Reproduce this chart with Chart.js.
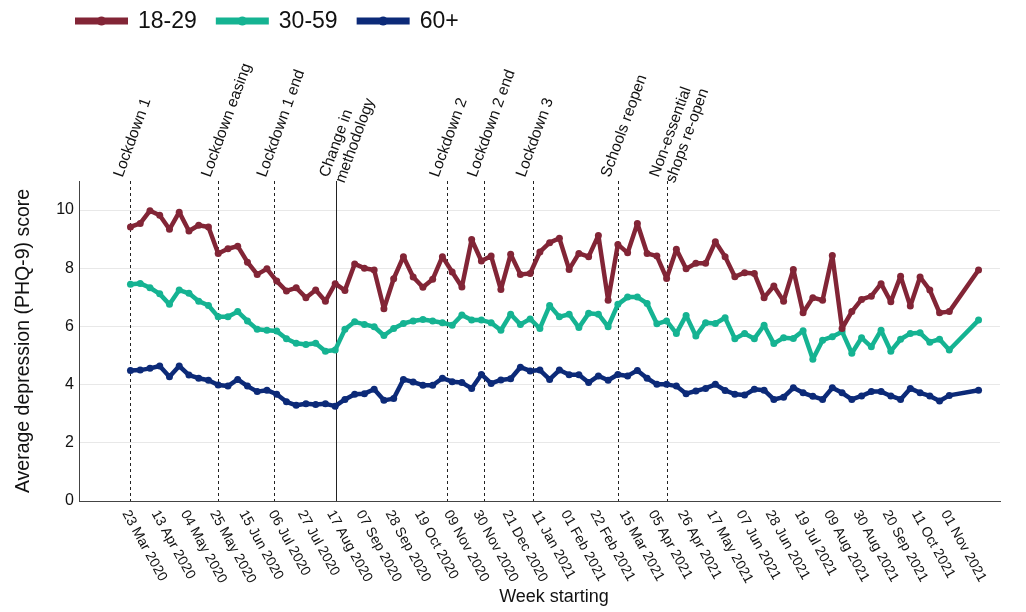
<!DOCTYPE html>
<html>
<head>
<meta charset="utf-8">
<script src="https://cdn.jsdelivr.net/npm/chart.js@4.4.0/dist/chart.umd.min.js"></script>
<style>
html,body{margin:0;padding:0;background:#fff;}
#wrap{width:1026px;height:612px;position:relative;}
</style>
</head>
<body>
<div id="wrap"><canvas id="c" width="1026" height="612"></canvas></div>
<script>
// Weeks since 23 Mar 2020
const weekOffsets = [0,1,2,3,4,5,6,7,8,9,10,11,12,13,14,15,16,17,18,19,20,21,22,23,24,25,26,27,28,29,30,31,32,33,34,35,36,37,38,39,40,41,42,43,44,45,46,47,48,49,50,51,52,53,54,55,56,57,58,59,60,61,62,63,64,65,66,67,68,69,70,71,72,73,74,75,76,77,78,79,80,81,82,83,84,87];

const series1829 = [9.42,9.54,9.98,9.82,9.34,9.93,9.28,9.48,9.42,8.51,
  8.67,8.76,8.21,7.79,7.98,7.56,7.22,7.33,6.99,7.25,
  6.87,7.47,7.24,8.15,8.00,7.94,6.61,7.64,8.40,7.70,
  7.35,7.62,8.40,7.87,7.36,8.99,8.25,8.42,7.27,8.48,
  7.79,7.82,8.56,8.88,9.03,7.96,8.51,8.40,9.13,6.90,
  8.82,8.53,9.54,8.51,8.42,7.65,8.65,7.98,8.17,8.17,
  8.91,8.40,7.71,7.85,7.82,6.99,7.39,6.87,7.96,6.47,
  6.99,6.90,8.44,5.93,6.51,6.93,7.04,7.47,6.85,7.73,
  6.70,7.70,7.25,6.47,6.51,7.94];

const series3059 = [7.45,7.48,7.33,7.12,6.76,7.25,7.14,6.87,6.72,6.33,
  6.33,6.51,6.19,5.90,5.87,5.84,5.58,5.42,5.38,5.42,
  5.15,5.19,5.90,6.16,6.07,5.99,5.69,5.93,6.10,6.19,
  6.24,6.19,6.13,6.04,6.39,6.22,6.22,6.13,5.87,6.42,
  6.07,6.26,5.93,6.72,6.33,6.42,5.96,6.45,6.42,5.99,
  6.76,7.01,7.01,6.79,6.09,6.19,5.76,6.38,5.67,6.13,
  6.10,6.30,5.58,5.76,5.58,6.04,5.41,5.61,5.59,5.85,
  4.87,5.53,5.65,5.82,5.08,5.61,5.30,5.87,5.15,5.56,
  5.76,5.78,5.46,5.56,5.19,6.22];

const series60 = [4.49,4.50,4.56,4.64,4.27,4.64,4.33,4.22,4.15,3.99,
  3.95,4.18,3.95,3.76,3.81,3.67,3.41,3.29,3.34,3.32,
  3.34,3.26,3.49,3.67,3.69,3.84,3.46,3.52,4.18,4.09,
  3.98,3.98,4.22,4.10,4.07,3.87,4.35,4.04,4.16,4.20,
  4.60,4.47,4.50,4.18,4.50,4.34,4.34,4.07,4.30,4.15,
  4.35,4.30,4.49,4.22,4.01,4.01,3.95,3.69,3.78,3.87,
  4.01,3.80,3.67,3.64,3.84,3.81,3.49,3.57,3.89,3.72,
  3.60,3.49,3.89,3.72,3.49,3.61,3.76,3.76,3.61,3.49,
  3.87,3.72,3.61,3.44,3.63,3.81];

const seriesNames = ["18-29","30-59","60+"];
const seriesColors = ["#822536","#15b392","#0c2a78"];

const tickWeeks = [0,3,6,9,12,15,18,21,24,27,30,33,36,39,42,45,48,51,54,57,60,63,66,69,72,75,78,81,84];
const tickLabels = ["23 Mar 2020","13 Apr 2020","04 May 2020","25 May 2020","15 Jun 2020","06 Jul 2020","27 Jul 2020",
  "17 Aug 2020","07 Sep 2020","28 Sep 2020","19 Oct 2020","09 Nov 2020","30 Nov 2020","21 Dec 2020",
  "11 Jan 2021","01 Feb 2021","22 Feb 2021","15 Mar 2021","05 Apr 2021","26 Apr 2021","17 May 2021",
  "07 Jun 2021","28 Jun 2021","19 Jul 2021","09 Aug 2021","30 Aug 2021","20 Sep 2021","11 Oct 2021","01 Nov 2021"];

const eventWeeks = [0, 9, 14.71, 21.1, 32.43, 36.29, 41.29, 50, 55];
const eventLabels = [["Lockdown 1"],["Lockdown easing"],["Lockdown 1 end"],["Change in","methodology"],
  ["Lockdown 2"],["Lockdown 2 end"],["Lockdown 3"],["Schools reopen"],["Non-essential","shops re-open"]];
const eventSolid = [false,false,false,true,false,false,false,false,false];

const xTitle = "Week starting";
const yTitle = "Average depression (PHQ-9) score";

const FONT = "'Liberation Sans', Arial, sans-serif";

function toPoints(vals){ return vals.map((v,i)=>({x: weekOffsets[i], y: v})); }

const customDraw = {
  id: 'customDraw',
  beforeDatasetsDraw(chart){
    const {ctx, chartArea:{top,bottom}, scales:{x}} = chart;
    ctx.save();
    ctx.lineWidth = 1;
    ctx.strokeStyle = '#222';
    eventWeeks.forEach((w,i)=>{
      const px = Math.round(x.getPixelForValue(w)) + 0.5;
      ctx.setLineDash(eventSolid[i] ? [] : [3,3]);
      ctx.beginPath();
      ctx.moveTo(px, top);
      ctx.lineTo(px, bottom);
      ctx.stroke();
    });
    ctx.restore();
  },
  afterDraw(chart){
    const {ctx, chartArea:{top,bottom}, scales:{x}} = chart;
    ctx.save();
    ctx.fillStyle = '#111';
    // event labels
    ctx.font = "15.5px " + FONT;
    ctx.textAlign = 'left';
    ctx.textBaseline = 'alphabetic';
    const ang = 70 * Math.PI/180;
    eventWeeks.forEach((w,i)=>{
      const px = x.getPixelForValue(w);
      ctx.save();
      ctx.translate(px - 8, top - 3);
      ctx.rotate(-ang);
      eventLabels[i].forEach((line,j)=>{ ctx.fillText(line, 0, j*17); });
      ctx.restore();
    });
    // x tick labels
    ctx.font = "14px " + FONT;
    ctx.textBaseline = 'top';
    const ang2 = 61 * Math.PI/180;
    tickWeeks.forEach((w,i)=>{
      const px = x.getPixelForValue(w);
      ctx.save();
      ctx.translate(px + 1, bottom + 7);
      ctx.rotate(ang2);
      ctx.fillText(tickLabels[i], 0, 0);
      ctx.restore();
    });
    // x title
    ctx.font = "18px " + FONT;
    ctx.textAlign = 'center';
    ctx.textBaseline = 'middle';
    ctx.fillText(xTitle, 554, 597);
    // legend
    ctx.textAlign = 'left';
    ctx.font = "23px " + FONT;
    ctx.textBaseline = 'middle';
    let lx = 75;
    const ly = 21;
    seriesNames.forEach((name,i)=>{
      ctx.strokeStyle = seriesColors[i];
      ctx.lineWidth = 7;
      ctx.setLineDash([]);
      ctx.beginPath(); ctx.moveTo(lx, ly); ctx.lineTo(lx+53, ly); ctx.stroke();
      ctx.fillStyle = seriesColors[i];
      ctx.beginPath(); ctx.arc(lx+26.5, ly, 4.5, 0, Math.PI*2); ctx.fill();
      ctx.fillStyle = '#111';
      ctx.fillText(name, lx+63, ly+1);
      lx += 63 + ctx.measureText(name).width + 19;
    });
    ctx.restore();
  }
};

new Chart(document.getElementById('c'), {
  type: 'line',
  data: {
    datasets: seriesNames.map((n,i)=>({
      label: n,
      data: toPoints([series1829, series3059, series60][i]),
      borderColor: seriesColors[i],
      backgroundColor: seriesColors[i],
      borderWidth: 4.5,
      borderJoinStyle: 'round',
      borderCapStyle: 'round',
      pointRadius: 3.5,
      pointBorderWidth: 0,
      pointHoverRadius: 3.5,
      tension: 0,
      fill: false
    }))
  },
  options: {
    responsive: false,
    animation: false,
    devicePixelRatio: 1,
    layout: { padding: { top: 181, right: 26, bottom: 0, left: 9 } },
    plugins: { legend: { display: false }, tooltip: { enabled: false } },
    scales: {
      x: {
        type: 'linear',
        min: -5.28,
        max: 89.2,
        grid: { display: false, drawTicks: false },
        border: { display: true, color: '#444', width: 1 },
        ticks: { display: false },
        title: { display: false, text: xTitle },
        afterFit(s){ s.height = 111; }
      },
      y: {
        min: 0,
        max: 11,
        grid: { color: '#e8e8e8', lineWidth: 1, drawTicks: false },
        border: { display: true, color: '#444', width: 1 },
        ticks: { stepSize: 2, includeBounds: false, color: '#111', padding: 5, font: { family: FONT, size: 16 } },
        title: { display: true, text: yTitle, color: '#111', font: { family: FONT, size: 19.5 }, padding: { top: 3, bottom: 3 } },
        afterFit(s){ s.width = 70; }
      }
    }
  },
  plugins: [customDraw]
});
</script>
</body>
</html>
